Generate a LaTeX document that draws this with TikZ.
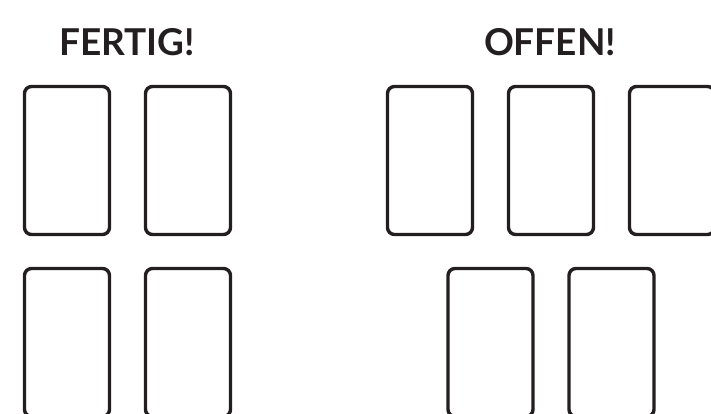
\documentclass[tikz,border=0pt]{standalone}
\usepackage{fontspec}
\setmainfont{Lato}
\usetikzlibrary{positioning}
\definecolor{ink}{RGB}{35,31,32}

\begin{document}
\begin{tikzpicture}[x=1pt,y=-1pt,
  card/.style={draw=ink,line width=3.4pt,rounded corners=7pt,
    minimum width=85pt,minimum height=148pt,inner sep=0pt},
  heading/.style={text=ink,font=\fontsize{37}{42}\selectfont\bfseries}]
  \useasboundingbox (0,0) rectangle (711,414);
  \clip (0,0) rectangle (711,414);
  \node[heading] (fertig) at (127,42) {FERTIG!};
  \node[heading] (offen) at (550,42) {OFFEN!};
  % fertig: 2 x 2
  \foreach \x/\n in {67/1,188/2}{
    \node[card] (f\n) at (\x,160.5) {};
    \node[card] (g\n) at (\x,342.5) {};}
  % offen: 3 oben, 2 unten
  \foreach \x/\n in {430/1,551/2,672/3}{\node[card] (o\n) at (\x,160.5) {};}
  \foreach \x/\n in {490.5/1,611.5/2}{\node[card] (p\n) at (\x,342.5) {};}
\end{tikzpicture}
\end{document}
